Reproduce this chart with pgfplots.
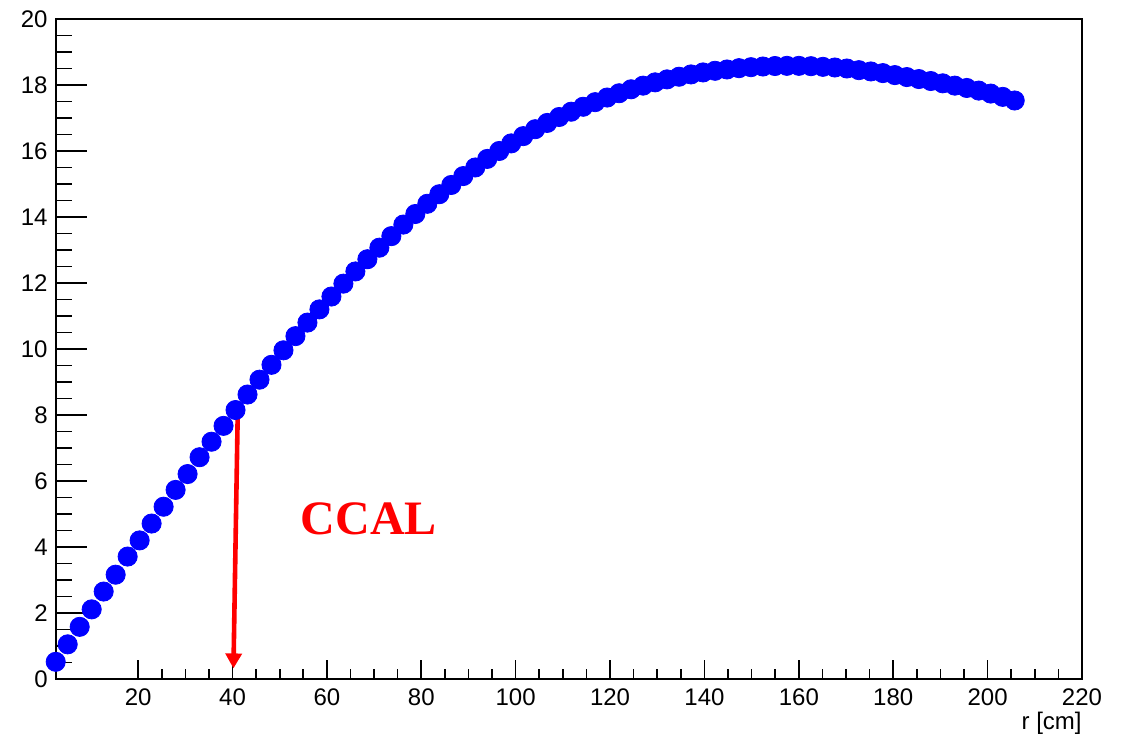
\documentclass[border=0pt]{standalone}
\usepackage{pgfplots}
\pgfplotsset{compat=1.18}
\usepackage{fontspec}
\setmainfont{Liberation Sans}
\newfontfamily\timesfont{Liberation Serif}
\usetikzlibrary{arrows.meta}
\pgfplotstableread{
r y
2.54 0.52
5.08 1.05
7.62 1.58
10.16 2.11
12.70 2.65
15.24 3.16
17.78 3.71
20.32 4.20
22.86 4.71
25.40 5.22
27.94 5.73
30.48 6.21
33.02 6.72
35.56 7.19
38.10 7.67
40.64 8.15
43.18 8.62
45.72 9.07
48.26 9.52
50.80 9.96
53.34 10.39
55.88 10.80
58.42 11.20
60.96 11.59
63.50 11.98
66.04 12.35
68.58 12.72
71.12 13.07
73.66 13.42
76.20 13.77
78.74 14.09
81.28 14.40
83.82 14.69
86.36 14.97
88.90 15.24
91.44 15.50
93.98 15.76
96.52 16.00
99.06 16.23
101.60 16.45
104.14 16.66
106.68 16.85
109.22 17.03
111.76 17.19
114.30 17.34
116.84 17.48
119.38 17.62
121.92 17.75
124.46 17.87
127.00 17.98
129.54 18.08
132.08 18.17
134.62 18.25
137.16 18.32
139.70 18.38
142.24 18.43
144.78 18.47
147.32 18.51
149.86 18.54
152.40 18.56
154.94 18.575
157.48 18.58
160.02 18.58
162.56 18.57
165.10 18.55
167.64 18.53
170.18 18.50
172.72 18.45
175.26 18.41
177.80 18.36
180.34 18.30
182.88 18.24
185.42 18.18
187.96 18.12
190.50 18.05
193.04 17.98
195.58 17.91
198.12 17.83
200.66 17.74
203.20 17.64
205.74 17.53
}\datatable
\begin{document}
\begin{tikzpicture}
\path[use as bounding box] (-28pt,-31.5pt) rectangle (539.5pt,339.5pt);
% axis for x ticks
\begin{axis}[
  scale only axis, width=513pt, height=330pt,
  xmin=2.6, xmax=220, ymin=0, ymax=20,
  axis line style={line width=0.8pt},
  every tick/.style={black, line width=0.8pt},
  tick align=inside, tick pos=left,
  xtick={20,40,...,220}, minor x tick num=3,
  ytick=\empty,
  major tick length=9.5pt, minor tick length=5pt,
  /pgf/number format/assume math mode=true,
  tick label style={font=\fontsize{12}{14}\selectfont, inner sep=0pt},
  xticklabel shift=4.5pt,
  xlabel={r [cm]},
  xlabel style={at={(rel axis cs:1,0)}, anchor=north east, inner sep=0pt, yshift=-16.5pt, font=\fontsize{12}{14}\selectfont},
]
\end{axis}
\begin{axis}[
  scale only axis, width=513pt, height=330pt,
  xmin=2.6, xmax=220, ymin=0, ymax=20,
  clip=false,
  axis line style={line width=0.8pt},
  every tick/.style={black, line width=0.8pt},
  tick align=inside, tick pos=left,
  xtick=\empty,
  ytick={0,2,...,20}, minor y tick num=3,
  major tick length=15.5pt, minor tick length=7.8pt,
  /pgf/number format/assume math mode=true,
  tick label style={font=\fontsize{12}{14}\selectfont, inner sep=0pt},
  yticklabel shift=4pt,
]
\addplot[red, line width=2.3pt, -{Triangle[length=7.5pt,width=8pt]}] coordinates {(41.1,8.0) (40.2,0.32)};
\addplot[only marks, mark=*, mark size=4.8pt, blue, mark options={draw=blue, fill=blue}] table[x=r, y=y] {\datatable};
\node[text=red, font=\timesfont\bfseries\fontsize{24}{28}\selectfont, anchor=center] at (axis cs:68.9,4.85) {CCAL};
\end{axis}
\end{tikzpicture}
\end{document}
